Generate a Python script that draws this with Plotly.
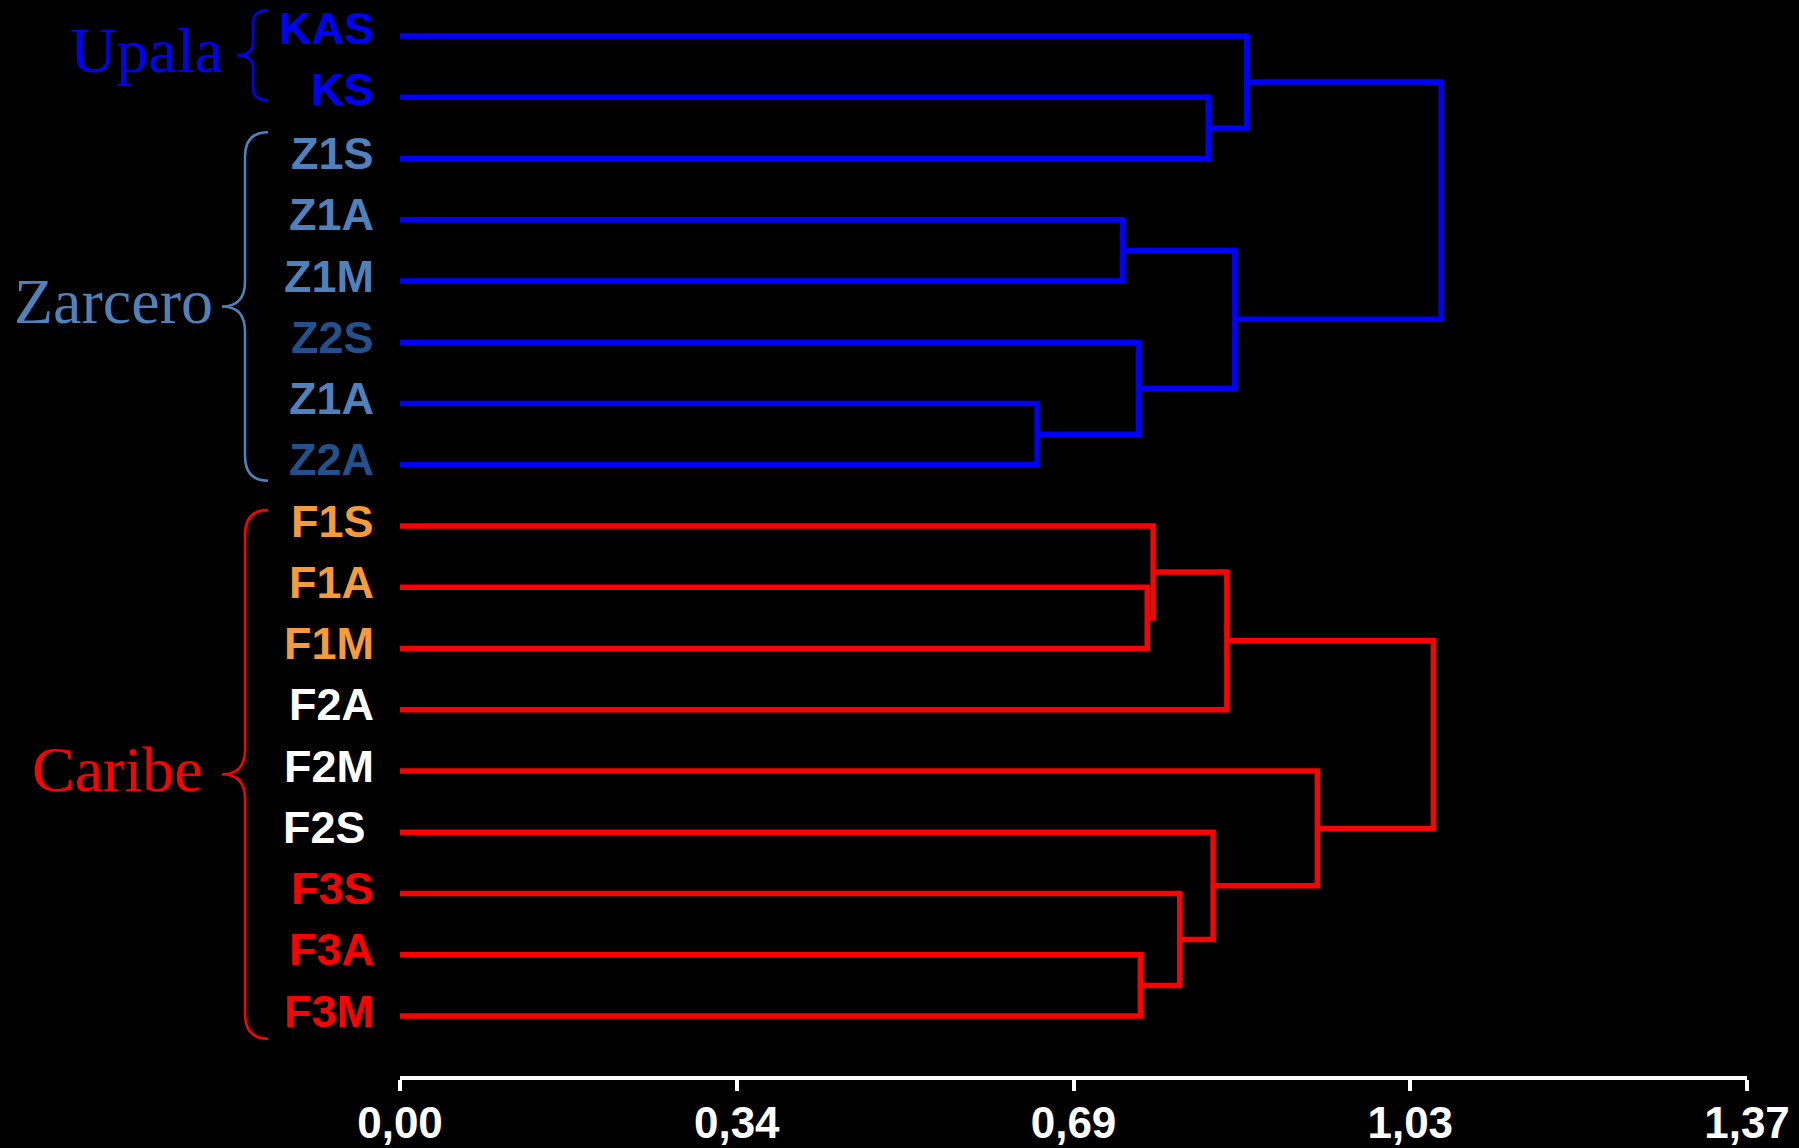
import plotly.graph_objects as go

# ---- data -------------------------------------------------------------
leaves = ["KAS", "KS", "Z1S", "Z1A", "Z1M", "Z2S", "Z1A", "Z2A",
          "F1S", "F1A", "F1M", "F2A", "F2M", "F2S", "F3S", "F3A", "F3M"]
leaf_text_colors = ["#0000FF", "#0000FF",
                    "#4F81BD", "#4F81BD", "#4F81BD", "#24508C", "#4F81BD", "#24508C",
                    "#F79A3C", "#F79A3C", "#F79A3C",
                    "#FFFFFF", "#FFFFFF", "#FFFFFF",
                    "#FF0000", "#FF0000", "#FF0000"]
leaf_branch_colors = ["#0000FF"] * 8 + ["#FF0000"] * 9

# linkage: (child_a, child_b, distance); ids >= len(leaves) refer to earlier merges
merges = [
    (6, 7, 0.648),    # 17
    (3, 4, 0.735),    # 18
    (5, 17, 0.751),   # 19
    (1, 2, 0.822),    # 20
    (18, 19, 0.849),  # 21
    (0, 20, 0.861),   # 22
    (22, 21, 1.059),  # 23
    (15, 16, 0.753),  # 24
    (9, 10, 0.760),   # 25
    (8, 25, 0.766),   # 26
    (14, 24, 0.793),  # 27
    (13, 27, 0.827),  # 28
    (26, 11, 0.841),  # 29
    (12, 28, 0.933),  # 30
    (29, 30, 1.051),  # 31
]

tick_vals = [0.0, 0.3425, 0.685, 1.0275, 1.37]
tick_text = ["0,00", "0,34", "0,69", "1,03", "1,37"]

groups = ["Upala", "Zarcero", "Caribe"]
group_colors = ["#0000FF", "#4F81BD", "#FF0000"]
group_spans = [(-0.42, 1.05), (1.57, 7.26), (7.74, 16.37)]   # in leaf units
group_text_gap = [12, 7, 17]                                  # px between name and brace tip

# ---- layout geometry --------------------------------------------------
W, H = 1799, 1148
M_L, M_R, M_T, M_B = 400, 52, 10, 72
PLOT_W = W - M_L - M_R
PLOT_H = H - M_T - M_B
LEAF_PX = 61.25                      # vertical pixels per leaf
Y_TOP = -(36 - M_T) / LEAF_PX
Y_BOT = Y_TOP + PLOT_H / LEAF_PX


def leaf_to_px(v):
    return M_T + (v - Y_TOP) * LEAF_PX


def px_x(px):
    return (px - M_L) / PLOT_W


def px_y(py):
    return (H - M_B - py) / PLOT_H


# ---- dendrogram branches ----------------------------------------------
n = len(leaves)
node_pos = {i: (0.0, float(i)) for i in range(n)}
node_color = {i: leaf_branch_colors[i] for i in range(n)}
paths = {}
for k, (a, b, h) in enumerate(merges):
    xa, ya = node_pos[a]
    xb, yb = node_pos[b]
    col = node_color[a]
    xs, ys = paths.setdefault(col, ([], []))
    xs.extend([xa, h, h, xb, None])
    ys.extend([ya, ya, yb, yb, None])
    node_pos[n + k] = (h, (ya + yb) / 2)
    node_color[n + k] = col

fig = go.Figure()
for col, (xs, ys) in paths.items():
    fig.add_trace(go.Scatter(x=xs, y=ys, mode="lines",
                             line=dict(color=col, width=5.5),
                             hoverinfo="skip", showlegend=False))

# ---- leaf labels ------------------------------------------------------
annotations = []
for i, (name, col) in enumerate(zip(leaves, leaf_text_colors)):
    # the F2S label sits slightly further from its branch
    extra = -8 if name == "F2S" else 0
    annotations.append(dict(
        x=0, y=i, xref="x", yref="y", text=name, showarrow=False,
        xanchor="right", yanchor="middle", xshift=-24 + extra,
        yshift=8 if i < 2 else 5,
        font=dict(family="Liberation Sans, Arial, sans-serif", size=45,
                  color=col, weight="bold")))

# ---- group braces and names -------------------------------------------
shapes = []
for name, col, (g0, g1), gap in zip(groups, group_colors, group_spans, group_text_gap):
    small = (g1 - g0) < 3
    x_end, x_v, x_tip = (268, 253, 237) if small else (268, 245, 222)
    r = 13 if small else 25
    y0, y1 = leaf_to_px(g0), leaf_to_px(g1)
    ym = (y0 + y1) / 2
    pts = [
        ("M", [(x_end, y0)]),
        ("Q", [(x_v, y0), (x_v, y0 + r)]),
        ("L", [(x_v, ym - r)]),
        ("Q", [(x_v, ym), (x_tip, ym)]),
        ("Q", [(x_v, ym), (x_v, ym + r)]),
        ("L", [(x_v, y1 - r)]),
        ("Q", [(x_v, y1), (x_end, y1)]),
    ]
    path = " ".join(
        cmd + " " + " ".join(f"{px_x(px):.5f},{px_y(py):.5f}" for px, py in p)
        for cmd, p in pts)
    shapes.append(dict(type="path", path=path, xref="paper", yref="paper",
                       line=dict(color=col, width=2.5)))
    annotations.append(dict(
        x=px_x(x_tip - gap), y=px_y(ym - 5), xref="paper", yref="paper",
        text=name, showarrow=False, xanchor="right", yanchor="middle",
        font=dict(family="Liberation Serif, Times New Roman, serif",
                  size=64, color=col)))

fig.update_layout(
    template="none",
    width=W, height=H, autosize=False,
    margin=dict(l=M_L, r=M_R, t=M_T, b=M_B, pad=0),
    paper_bgcolor="black", plot_bgcolor="black",
    showlegend=False,
    shapes=shapes, annotations=annotations,
    xaxis=dict(range=[0, 1.37], tickmode="array", tickvals=tick_vals,
               ticktext=tick_text, showgrid=False, zeroline=False,
               automargin=False,
               showline=True, linecolor="white", linewidth=4,
               ticks="outside", ticklen=11, tickwidth=4, tickcolor="white",
               ticklabelstandoff=-6,
               tickfont=dict(family="Liberation Sans, Arial, sans-serif",
                             size=44, color="white", weight="bold"),
               fixedrange=True),
    yaxis=dict(range=[Y_BOT, Y_TOP], visible=False, automargin=False,
               showgrid=False, zeroline=False, fixedrange=True),
)

fig.write_html("out.html", config={"displayModeBar": False})
